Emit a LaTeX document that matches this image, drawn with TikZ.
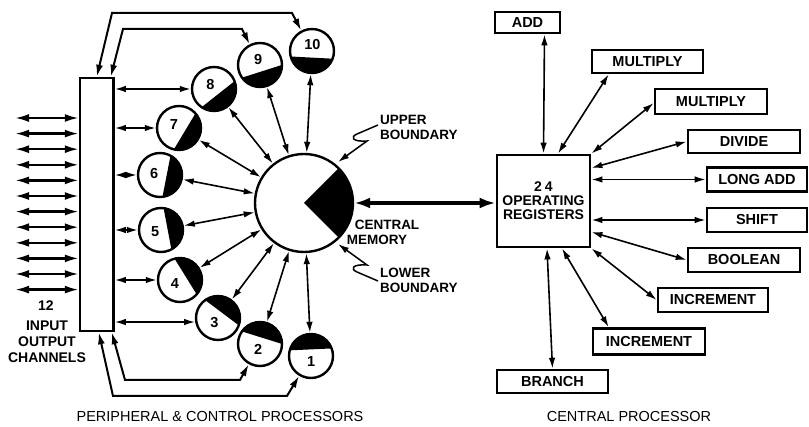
\documentclass[tikz,border=0pt]{standalone}
\usepackage{fontspec}
\setmainfont{Liberation Sans}
\usetikzlibrary{arrows.meta,calc}

\begin{document}
\begin{tikzpicture}[x=1pt,y=-1pt,
  conn/.style={line width=1.6pt,
    {Latex[length=11pt,width=6.5pt]}-{Latex[length=11pt,width=6.5pt]}},
  looparrow/.style={line width=2pt,
    {Latex[length=12pt,width=7pt]}-{Latex[length=12pt,width=7pt]}},
  chan/.style={line width=2.3pt,
    {Latex[length=14pt,width=8pt]}-{Latex[length=14pt,width=8pt]}},
  widearrow/.style={line width=3.5pt,
    {Latex[length=16pt,width=11pt]}-{Latex[length=16pt,width=11pt]}},
  bnd/.style={line width=1.5pt, -{Latex[length=11pt,width=6.5pt]}},
  pp/.style={circle, draw, line width=2.4pt, minimum size=44pt, inner sep=0pt},
  unitbox/.style={draw, line width=2.6pt, minimum height=23pt, inner sep=0pt,
    font=\bfseries\fontsize{14.5}{16}\selectfont},
  num/.style={font=\bfseries\fontsize{14.5}{16}\selectfont, inner sep=0pt},
  lbl/.style={font=\bfseries\fontsize{13.5}{15}\selectfont, inner sep=0pt, align=left},
  captxt/.style={font=\fontsize{14.5}{16}\selectfont, inner sep=0pt}
]
\useasboundingbox (0,0) rectangle (809,427);

% input/output channel bus
\node[draw, line width=2.5pt, minimum width=33.5pt, minimum height=253pt,
      inner sep=0pt] (io) at (96.75,204.5) {};
\foreach \k in {0,...,11} {
  \coordinate (ch\k) at (15,118+15.6*\k);
  \draw[chan] (ch\k) -- (ch\k -| io.west);
}
\node[lbl, font=\bfseries\fontsize{14}{16}\selectfont] (n12) at (46,306) {12};
\node[lbl, align=center, font=\bfseries\fontsize{14}{16}\selectfont]
  (ioch) at (47,341.5) {INPUT\\OUTPUT\\CHANNELS};

% central memory with its shaded sector
\fill (304,203) -- ++(-45:49) arc[start angle=-45, end angle=45, radius=49] -- cycle;
\node[circle, draw, line width=2.4pt, minimum size=98pt, inner sep=0pt] (mem) at (304,203) {};

% peripheral processors: centre and direction towards the memory
\foreach \i/\x/\y/\a in {10/312/51/93.0, 9/260/65/72.3, 8/214/89/51.7,
    7/179/128/31.0, 6/160/175/11.0, 5/161/230/-10.7, 4/180/280/-31.8,
    3/218/318/-53.2, 2/260/344/-72.7, 1/311/356/-92.6} {
  \fill (\x,\y) ++(\a-72.5:22) arc[start angle=\a-72.5, end angle=\a+72.5, radius=22] -- cycle;
  \node[pp] (c\i) at (\x,\y) {};
  \node[num] (n\i) at ($(\x,\y)+(\a+180:6)$) {\i};
}
\foreach \i in {1,...,10} \draw[conn] (c\i) -- (mem);

% bus to processors
\foreach \i in {4,...,8} \draw[conn] (io.east |- c\i) -- (c\i);
\draw[conn] (io.east |- c3.190) -- (c3.190);

% loops over the top and under the bottom of the bus
\coordinate (ta1) at (112,13);  \coordinate (ta2) at (292,13);
\coordinate (tb1) at (123,29);  \coordinate (tb2) at (242,29);
\coordinate (ba1) at (113,396); \coordinate (ba2) at (287,396);
\coordinate (bb1) at (125,380); \coordinate (bb2) at (240,380);
\draw[looparrow] ([xshift=18pt]io.north west) -- (ta1) -- (ta2) -- (c10);
\draw[looparrow] ([xshift=32pt]io.north west) -- (tb1) -- (tb2) -- (c9);
\draw[looparrow] ([xshift=20pt]io.south west) -- (ba1) -- (ba2) -- (c1);
\draw[looparrow] ([xshift=33pt]io.south west) -- (bb1) -- (bb2) -- (c2);

% boundary labels
\node[lbl, anchor=west] (ub) at (380,127.5) {UPPER\\BOUNDARY};
\node[lbl, anchor=west] (lb) at (380,280) {LOWER\\BOUNDARY};
\node[lbl] (cm1) at (387,225) {CENTRAL};
\node[lbl] (cm2) at (377,239.5) {MEMORY};
\coordinate (us) at (378,125);
\coordinate (ls) at (378,281);
\draw[bnd] (us) -- (357,134) .. controls (350,137) and (352,142) .. (367,141) -- (338,162);
\draw[bnd] (ls) -- (357,272) .. controls (350,269) and (352,264) .. (367,265) -- (338,244);

% central processor
\node[unitbox, line width=2.8pt, minimum width=93pt, minimum height=92pt, align=center,
      font=\bfseries\fontsize{14}{14}\selectfont] (cpu) at (543.5,201)
  {2\hspace{3pt}4\\OPERATING\\REGISTERS};
\draw[widearrow] (mem.east) -- (mem.east -| cpu.west);

\node[unitbox, minimum width=65pt, minimum height=21pt] (add) at (527.5,22.5) {ADD};
\node[unitbox, minimum width=111pt] (mul1) at (647.5,61.5) {MULTIPLY};
\node[unitbox, minimum width=112pt, minimum height=25pt] (mul2) at (711,101.5) {MULTIPLY};
\node[unitbox, minimum width=112pt] (div) at (744,141.5) {DIVIDE};
\node[unitbox, minimum width=100pt, minimum height=24pt] (lad) at (757,179.5) {LONG ADD};
\node[unitbox, minimum width=100pt, minimum height=24pt] (shf) at (757,220) {SHIFT};
\node[unitbox, minimum width=112pt, minimum height=24pt] (boo) at (744,260) {BOOLEAN};
\node[unitbox, minimum width=110pt, minimum height=24pt] (inc1) at (713,300) {INCREMENT};
\node[unitbox, minimum width=112pt, minimum height=26pt] (inc2) at (649,341.5) {INCREMENT};
\node[unitbox, minimum width=111pt] (bra) at (552.5,381.5) {BRANCH};

\draw[conn] ([xshift=17pt]add.south) -- (cpu.north);
\draw[conn] ([xshift=18pt]mul1.south west) -- ([xshift=14.5pt]cpu.north);
\draw[conn] ([yshift=-1.5pt]mul2.west) -- (cpu.north east);
\draw[conn] (div.west) -- ([yshift=33pt]cpu.east);
\draw[conn] (cpu.east |- lad) -- (lad.west);
\draw[conn] (cpu.east |- shf) -- (shf.west);
\draw[conn] ([yshift=-31pt]cpu.east) -- (boo.west);
\draw[conn] (cpu.south east) -- (inc1.west);
\draw[conn] ([xshift=18.5pt]cpu.south) -- ([xshift=17pt]inc2.north west);
\draw[conn] ([xshift=3.5pt]cpu.south) -- (bra.north);

% captions
\node[captxt] (ppc) at (220,417) {PERIPHERAL \& CONTROL PROCESSORS};
\node[captxt] (cpc) at (629,417) {CENTRAL PROCESSOR};
\end{tikzpicture}
\end{document}
